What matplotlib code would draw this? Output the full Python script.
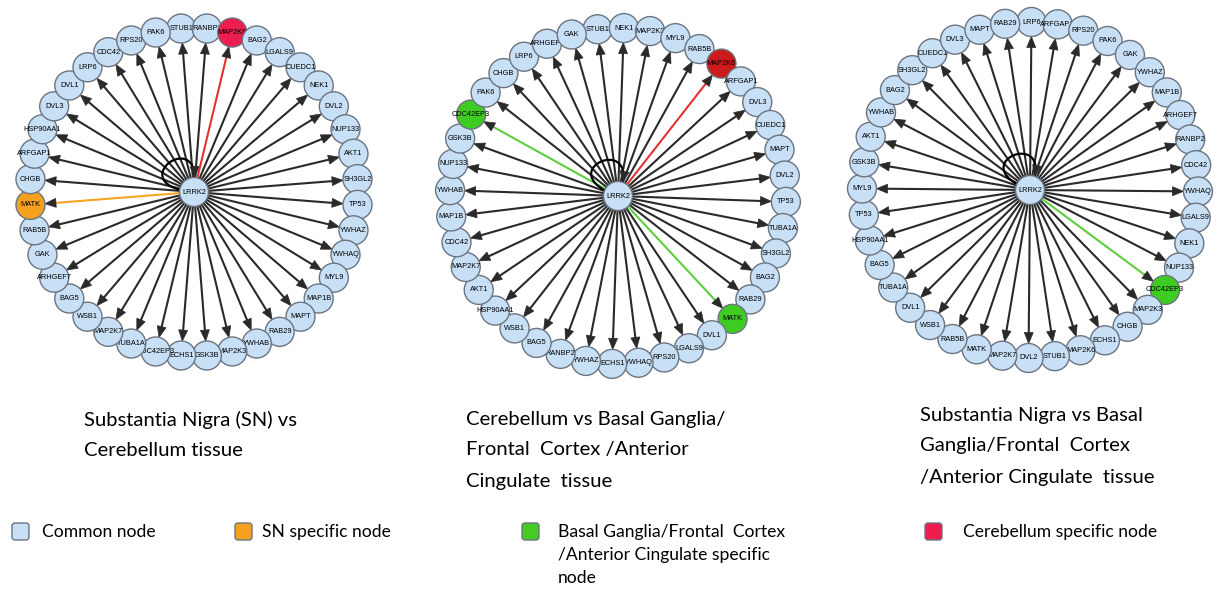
import numpy as np
import matplotlib
matplotlib.use("Agg")
import matplotlib.pyplot as plt
from matplotlib.patches import Circle, Polygon, FancyBboxPatch, PathPatch
from matplotlib.path import Path

# interaction partners of LRRK2, listed clockwise from the top of each ring
sn_vs_cb_nodes = ["STUB1", "RANBP2", "MAP2K6", "BAG2", "LGALS9", "CUEDC1", "NEK1", "DVL2",
                  "NUP133", "AKT1", "SH3GL2", "TP53", "YWHAZ", "YWHAQ", "MYL9", "MAP1B",
                  "MAPT", "RAB29", "YWHAB", "MAP2K3", "GSK3B", "ECHS1", "CDC42EP3", "TUBA1A",
                  "MAP2K7", "WSB1", "BAG5", "ARHGEF7", "GAK", "RAB5B", "MATK", "CHGB",
                  "ARFGAP1", "HSP90AA1", "DVL3", "DVL1", "LRP6", "CDC42", "RPS20", "PAK6"]
cb_vs_bg_nodes = ["STUB1", "NEK1", "MAP2K3", "MYL9", "RAB5B", "MAP2K6", "ARFGAP1", "DVL3",
                  "CUEDC1", "MAPT", "DVL2", "TP53", "TUBA1A", "SH3GL2", "BAG2", "RAB29",
                  "MATK", "DVL1", "LGALS9", "RPS20", "YWHAQ", "ECHS1", "YWHAZ", "RANBP2",
                  "BAG5", "WSB1", "HSP90AA1", "AKT1", "MAP2K7", "CDC42", "MAP1B", "YWHAB",
                  "NUP133", "GSK3B", "CDC42EP3", "PAK6", "CHGB", "LRP6", "ARHGEF7", "GAK"]
sn_vs_bg_nodes = ["LRP6", "ARFGAP1", "RPS20", "PAK6", "GAK", "YWHAZ", "MAP1B", "ARHGEF7",
                  "RANBP2", "CDC42", "YWHAQ", "LGALS9", "NEK1", "NUP133", "CDC42EP3", "MAP2K3",
                  "CHGB", "ECHS1", "MAP2K6", "STUB1", "DVL2", "MAP2K7", "MATK", "RAB5B",
                  "WSB1", "DVL1", "TUBA1A", "BAG5", "HSP90AA1", "TP53", "MYL9", "GSK3B",
                  "AKT1", "YWHAB", "BAG2", "SH3GL2", "CUEDC1", "DVL3", "MAPT", "RAB29"]

# tissue specific nodes: (node fill, edge colour)
sn_vs_cb_special = {"MAP2K6": ("#ee1d4f", "#e8312f"), "MATK": ("#f5a01e", "#f5a623")}
cb_vs_bg_special = {"MAP2K6": ("#cc1b1b", "#e8312f"), "MATK": ("#3fcc22", "#5ccf3c"),
                    "CDC42EP3": ("#3fcc22", "#5ccf3c")}
sn_vs_bg_special = {"CDC42EP3": ("#3fcc22", "#5ccf3c")}

titles = [["Substantia Nigra (SN) vs", "Cerebellum tissue"],
          ["Cerebellum vs Basal Ganglia/", "Frontal  Cortex /Anterior", "Cingulate  tissue"],
          ["Substantia Nigra vs Basal", "Ganglia/Frontal  Cortex", "/Anterior Cingulate  tissue"]]

legend_labels = [["Common node"], ["SN specific node"],
                 ["Basal Ganglia/Frontal  Cortex", "/Anterior Cingulate specific", "node"],
                 ["Cerebellum specific node"]]
legend_colors = ["#c8e0f6", "#f5a01e", "#44cc22", "#ee1d4f"]

COMMON = "#c8e0f6"
NODE_EDGE = "#6b7480"
EDGE = "#2a2a2a"
NODE_R = 14.5


def arrow_head(ax, tip, u, z):
    base = tip - 11 * u
    n = np.array([-u[1], u[0]])
    ax.add_patch(Polygon([tip, base + 4.5 * n, base - 4.5 * n], closed=True,
                         facecolor=EDGE, edgecolor=EDGE, lw=0.5, zorder=z))


def self_loop(ax, hub, direction):
    def rot(deg, length):
        a = np.radians(direction + deg)
        return hub + length * np.array([np.sin(a), -np.cos(a)])
    p0, p1, p2, p3 = rot(-45, NODE_R), rot(-40, 62), rot(35, 58), rot(40, NODE_R)
    path = Path([p0, p1, p2, p3], [Path.MOVETO, Path.CURVE4, Path.CURVE4, Path.CURVE4])
    ax.add_patch(PathPatch(path, facecolor="none", edgecolor="black", lw=1.6, zorder=2))
    u = (p3 - p2) / np.linalg.norm(p3 - p2)
    arrow_head(ax, p3, u, 2.5)


def draw_network(ax, nodes, special, center, radius, offset, loop_dir):
    hub = np.array(center, dtype=float)
    n = len(nodes)
    for i, name in enumerate(nodes):
        ang = np.radians(offset + 360.0 * i / n)
        u = np.array([np.sin(ang), -np.cos(ang)])
        pos = hub + radius * u
        fill, ecol = special.get(name, (COMMON, EDGE))
        tip = pos - NODE_R * u
        ax.plot([hub[0], tip[0] - 6 * u[0]], [hub[1], tip[1] - 6 * u[1]],
                color=ecol, lw=1.5, solid_capstyle="butt", zorder=1)
        arrow_head(ax, tip, u, 1.5)
        z = 3 + i * 0.02
        ax.add_patch(Circle(pos, NODE_R, facecolor=fill, edgecolor=NODE_EDGE, lw=1.0, zorder=z))
        ax.text(pos[0], pos[1], name, ha="center", va="center", fontsize=5.3,
                family="Liberation Sans", color="black", zorder=z + 0.01)
    self_loop(ax, hub, loop_dir)
    ax.add_patch(Circle(hub, NODE_R, facecolor=COMMON, edgecolor=NODE_EDGE, lw=1.0, zorder=4))
    ax.text(hub[0], hub[1], "LRRK2", ha="center", va="center", fontsize=5.3,
            family="Liberation Sans", zorder=4.1)


fig = plt.figure(figsize=(12.2, 5.9), dpi=100)
ax = fig.add_axes([0, 0, 1, 1])
ax.set_xlim(0, 1220)
ax.set_ylim(590, 0)
ax.axis("off")

draw_network(ax, sn_vs_cb_nodes, sn_vs_cb_special, (194, 192), 164, -4.5, -36)
draw_network(ax, cb_vs_bg_nodes, cb_vs_bg_special, (618, 196), 168, -7, -22)
draw_network(ax, sn_vs_bg_nodes, sn_vs_bg_special, (1030, 190), 168, 0.5, -21)

title_font = ["Lato", "DejaVu Sans"]
for (x, y0), lines in zip([(84, 420), (466, 419), (920, 415)], titles):
    for k, line in enumerate(lines):
        ax.text(x, y0 + 31 * k, line, ha="left", va="center", fontsize=14.6,
                family=title_font, color="black")

for bx, tx, lines, col in zip([12, 235, 522, 925], [42, 262, 558, 963],
                              legend_labels, legend_colors):
    ax.add_patch(FancyBboxPatch((bx, 523), 17, 17, boxstyle="round,pad=0,rounding_size=3",
                                facecolor=col, edgecolor=NODE_EDGE, lw=1.0))
    for k, line in enumerate(lines):
        ax.text(tx, 532 + 23 * k, line, ha="left", va="center", fontsize=12.6,
                family=title_font, color="black")

fig.savefig("out.png", dpi=100)
